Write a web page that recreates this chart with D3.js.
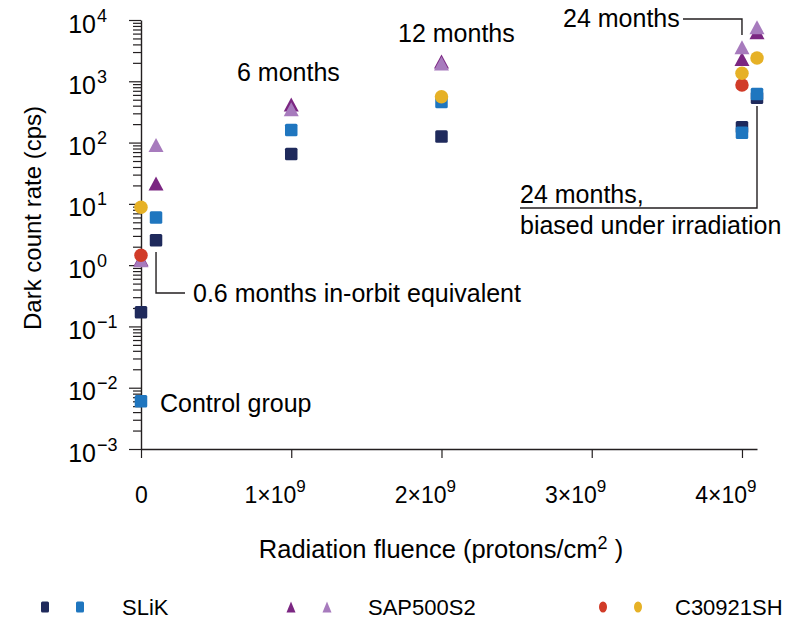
<!DOCTYPE html>
<html>
<head>
<meta charset="utf-8">
<script src="https://cdn.jsdelivr.net/npm/d3@7"></script>
<style>
  html, body { margin: 0; padding: 0; background: #fff; }
  svg { display: block; font-family: "Liberation Sans", Arial, Helvetica, sans-serif; }
</style>
</head>
<body>
<svg id="chart" width="792" height="621"></svg>
<script>
// ---- data ----
const fluence = [0, 0.1e9, 1e9, 2e9, 4e9, 4.1e9];
const slikDark   = [0.17, 2.55, 65, 126, 178, 540];
const slikLight  = [0.006, 6, 160, 460, 145, 620];
const sapDark    = [1.25, 21.5, 420, 2100, 2300, 6300];
const sapLight   = [1.2, 91, 350, 1950, 3600, 7600];
const c309Red    = [1.45, null, null, null, 870, null];
const c309Yellow = [8.8, null, null, 560, 1350, 2400];

const xTicks = [0, 1e9, 2e9, 3e9, 4e9];
const xTickLabels = ["0", "1×10|9", "2×10|9", "3×10|9", "4×10|9"];
const yMajor = [1e-3, 1e-2, 1e-1, 1, 10, 100, 1e3, 1e4];
const yTickLabels = ["10|−3", "10|−2", "10|−1", "10|0", "10|1", "10|2", "10|3", "10|4"];

const legendNames = ["SLiK", "SAP500S2", "C30921SH"];

const colors = {
  navy: "#1f2a5c", blue: "#1f76bf",
  purpleDark: "#7b2682", purpleLight: "#a77bbd",
  red: "#d13b28", yellow: "#e6b126"
};
const series = [
  { values: slikDark,   shape: "square",   color: colors.navy },
  { values: slikLight,  shape: "square",   color: colors.blue },
  { values: sapDark,    shape: "triangle", color: colors.purpleDark },
  { values: sapLight,   shape: "triangle", color: colors.purpleLight },
  { values: c309Red,    shape: "circle",   color: colors.red },
  { values: c309Yellow, shape: "circle",   color: colors.yellow }
];

// ---- layout ----
const svg = d3.select("#chart");
const axisColor = "#231f20";
const x = d3.scaleLinear().domain([0, 4.1e9]).range([141, 757]);
const y = d3.scaleLog().domain([1e-3, 1e4]).range([449, 20]);

// minor y ticks
const yMinor = [];
for (let e = -3; e < 4; e++) for (let m = 2; m <= 9; m++) yMinor.push(m * Math.pow(10, e));

const gyMinor = svg.append("g").attr("transform", `translate(${x(0)},0)`)
  .call(d3.axisLeft(y).tickValues(yMinor).tickSize(8).tickSizeOuter(0).tickFormat(""));
gyMinor.select(".domain").remove();
gyMinor.selectAll("line").attr("stroke", axisColor).attr("stroke-width", 1.2);

const gy = svg.append("g").attr("transform", `translate(${x(0)},0)`)
  .call(d3.axisLeft(y).tickValues(yMajor).tickSize(12).tickSizeOuter(0).tickFormat((d, i) => yTickLabels[i]));
gy.select(".domain").attr("stroke", axisColor).attr("stroke-width", 1.4);
gy.selectAll("line").attr("stroke", axisColor).attr("stroke-width", 1.2);
gy.selectAll("text").each(function(d, i) {
  const parts = yTickLabels[i].split("|");
  d3.select(this).text(parts[0])
    .attr("x", -45).attr("dy", null).attr("y", 12)
    .attr("text-anchor", "end").attr("fill", "#000")
    .style("font-size", "25px");
});
gy.selectAll(".tick").each(function(d, i) {
  const parts = yTickLabels[i].split("|");
  d3.select(this).append("text")
    .attr("x", -44).attr("y", 1)
    .attr("text-anchor", "start").attr("fill", "#000")
    .style("font-size", "18px")
    .text(parts[1]);
});

const gx = svg.append("g").attr("transform", `translate(0,${y(1e-3)})`)
  .call(d3.axisBottom(x).tickValues(xTicks).tickSize(9).tickSizeOuter(0).tickFormat((d, i) => xTickLabels[i]));
gx.select(".domain").attr("stroke", axisColor).attr("stroke-width", 1.4);
gx.selectAll("line").attr("stroke", axisColor).attr("stroke-width", 1.2);
gx.selectAll("text").each(function(d, i) {
  const parts = xTickLabels[i].split("|");
  const t = d3.select(this).text(null).attr("dy", null).attr("y", 54)
    .attr("fill", "#000").style("font-size", "23px");
  if (parts.length === 1) {
    t.attr("text-anchor", "middle").text(parts[0]);
  } else {
    t.attr("text-anchor", "end").attr("x", 14);
    t.append("tspan").text(parts[0]);
    t.append("tspan").attr("dy", -11).style("font-size", "17px").text(parts[1]);
  }
});

// axis titles
svg.append("text")
  .attr("transform", `translate(41,218) rotate(-90)`)
  .attr("text-anchor", "middle")
  .style("font-size", "24px").attr("fill", "#000")
  .text("Dark count rate (cps)");
const xt = svg.append("text")
  .attr("x", 441).attr("y", 558).attr("text-anchor", "middle")
  .style("font-size", "25.5px").attr("fill", "#000");
xt.append("tspan").text("Radiation fluence (protons/cm");
xt.append("tspan").attr("dy", -9).style("font-size", "18px").text("2");
xt.append("tspan").attr("dy", 9).text(" )");

// ---- markers ----
function drawMarker(g, shape, cx, cy, color, w, h) {
  if (shape === "square") {
    g.append("rect").attr("x", cx - w / 2).attr("y", cy - h / 2)
      .attr("width", w).attr("height", h).attr("rx", 1.5).attr("fill", color);
  } else if (shape === "triangle") {
    g.append("path").attr("d", `M${cx},${cy - h / 2}L${cx + w / 2},${cy + h / 2}L${cx - w / 2},${cy + h / 2}Z`)
      .attr("fill", color);
  } else {
    g.append("ellipse").attr("cx", cx).attr("cy", cy).attr("rx", w / 2).attr("ry", h / 2).attr("fill", color);
  }
}
const sizes = { square: [12.5, 12.5], triangle: [15, 14], circle: [13.5, 13.5] };
const gm = svg.append("g");
series.forEach(s => {
  s.values.forEach((v, i) => {
    if (v == null) return;
    drawMarker(gm, s.shape, x(fluence[i]), y(v), s.color, sizes[s.shape][0], sizes[s.shape][1]);
  });
});

// ---- annotations ----
const ann = svg.append("g").style("font-size", "25px").attr("fill", "#000");
const lineStyle = sel => sel.attr("fill", "none").attr("stroke", axisColor).attr("stroke-width", 1.4);
ann.append("text").attr("x", 237).attr("y", 81).text("6 months");
ann.append("text").attr("x", 398).attr("y", 42).text("12 months");
ann.append("text").attr("x", 563).attr("y", 27).text("24 months");
svg.append("path").attr("d", `M683,19H${x(4e9)}V35`).call(lineStyle);
ann.append("text").attr("x", 520).attr("y", 203).text("24 months,");
ann.append("text").attr("x", 520).attr("y", 234).text("biased under irradiation");
svg.append("path").attr("d", `M520,208H${x(4.1e9)}V106`).call(lineStyle);
ann.append("text").attr("x", 193).attr("y", 302).text("0.6 months in-orbit equivalent");
svg.append("path").attr("d", `M${x(0.1e9)},252V293H185`).call(lineStyle);
ann.append("text").attr("x", 160).attr("y", 412).text("Control group");

// ---- legend ----
const lg = svg.append("g");
const legendItems = [
  { name: legendNames[0], shape: "square",   c1: colors.navy,       c2: colors.blue,        x1: 45,  x2: 80,  tx: 122 },
  { name: legendNames[1], shape: "triangle", c1: colors.purpleDark, c2: colors.purpleLight, x1: 291, x2: 327, tx: 368 },
  { name: legendNames[2], shape: "circle",   c1: colors.red,        c2: colors.yellow,      x1: 603, x2: 638, tx: 675 }
];
legendItems.forEach(it => {
  drawMarker(lg, it.shape, it.x1, 607, it.c1, it.shape === "triangle" ? 9 : 8, 11);
  drawMarker(lg, it.shape, it.x2, 607, it.c2, it.shape === "triangle" ? 9 : 8, 11);
  lg.append("text").attr("x", it.tx).attr("y", 615).style("font-size", "22px").attr("fill", "#000").text(it.name);
});
</script>
</body>
</html>
